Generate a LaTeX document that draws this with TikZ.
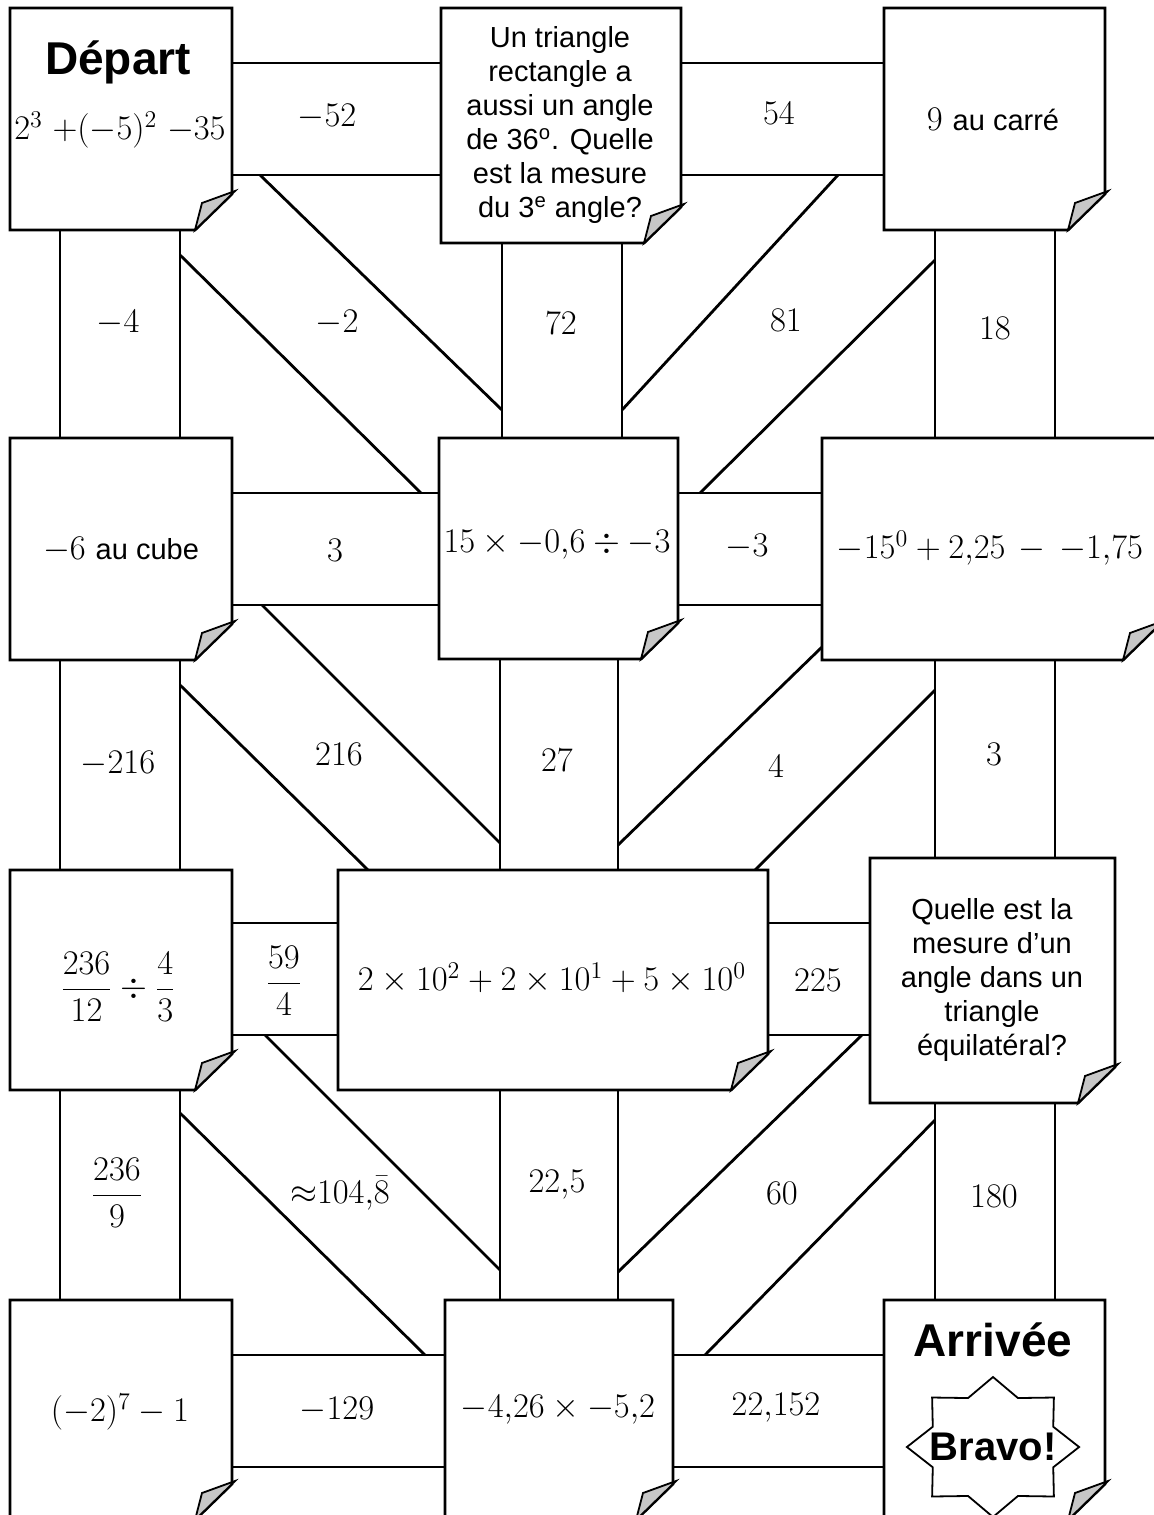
\documentclass[tikz,border=0pt]{standalone}
\usepackage{amsmath,amssymb}
\usepackage{fontspec}
\usepackage{tikz}
\usetikzlibrary{calc}
\newfontfamily\arialfont{Liberation Sans}
\newcommand\cardoutline[1]{%
  \filldraw[edge,fill=white] (#1.north west) -- (#1.north east) -- ([yshift=18pt]#1.south east) -- ([xshift=-18.5pt]#1.south east) -- (#1.south west) -- cycle;
  \filldraw[fold] ([xshift=-18.5pt]#1.south east) -- ([xshift=-15pt,yshift=13.5pt]#1.south east) -- ([xshift=1.5pt,yshift=19.5pt]#1.south east) -- cycle;}

\begin{document}
\begin{tikzpicture}[x=0.5pt,y=-0.5pt]
\tikzset{
  card/.style={inner sep=0pt,outer sep=0pt},
  edge/.style={draw=black,line width=1.4pt},
  fold/.style={draw=black,fill=black!22,line width=0.9pt},
  num/.style={font=\fontsize{16.5}{20}\selectfont},
  prose/.style={font=\arialfont\fontsize{14.5}{17}\selectfont,align=center},
  title/.style={font=\arialfont\bfseries\fontsize{23}{26}\selectfont}
}
\useasboundingbox (0,0) rectangle (1154,1515);
\clip (0,0) rectangle (1154,1515);

% cards of the board
\node[card,minimum width=111pt,minimum height=111pt] (dep) at (121,119) {};
\node[card,minimum width=120pt,minimum height=117.5pt] (tri) at (561,125.5) {};
\node[card,minimum width=110.5pt,minimum height=111pt] (sq) at (994.5,119) {};
\node[card,minimum width=111pt,minimum height=111pt] (cube) at (121,549) {};
\node[card,minimum width=119.5pt,minimum height=110.5pt] (mul) at (558.5,548.5) {};
\node[card,minimum width=169pt,minimum height=111pt] (pow) at (991,549) {};
\node[card,minimum width=111pt,minimum height=110pt] (frac) at (121,980) {};
\node[card,minimum width=215pt,minimum height=110pt] (sci) at (553,980) {};
\node[card,minimum width=122.5pt,minimum height=122.5pt] (equi) at (992.5,980.5) {};
\node[card,minimum width=111pt,minimum height=110pt] (odd) at (121,1410) {};
\node[card,minimum width=114pt,minimum height=110pt] (dec) at (559,1410) {};
\node[card,minimum width=110.5pt,minimum height=110pt] (arr) at (994.5,1410) {};

% straight bands
\foreach \a/\b/\y in {dep/tri/63,dep/tri/175,tri/sq/63,tri/sq/175,cube/mul/493,cube/mul/605,mul/pow/493,mul/pow/605,
  frac/sci/923,frac/sci/1035,sci/equi/923,sci/equi/1035,odd/dec/1355,odd/dec/1467,dec/arr/1355,dec/arr/1467}
  \draw[edge] (\a.center |- 0,\y) -- (\b.center |- 0,\y);
\foreach \a/\b/\x in {dep/cube/60,dep/cube/180,tri/mul/502,tri/mul/622,sq/pow/935,sq/pow/1055,
  cube/frac/60,cube/frac/180,mul/sci/500,mul/sci/618,pow/equi/935,pow/equi/1055,
  frac/odd/60,frac/odd/180,sci/dec/500,sci/dec/618,equi/arr/935,equi/arr/1055}
  \draw[edge] (\x,0 |- \a.center) -- (\x,0 |- \b.center);

% slanted bands
\foreach \xa/\ya/\xb/\yb in {180/255/421/493,260/175/502/410,838/175/622/410,935/260/700/493,
  180/685/368/870,262/605/500/843,822/647/618/845,935/690/755/870,
  180/1113/425/1355,265/1035/500/1270,862/1035/618/1272,935/1120/705/1355}
  \draw[edge] (\xa,\ya) -- (\xb,\yb);

\foreach \c in {dep,tri,sq,cube,mul,pow,frac,sci,equi,odd,dec,arr}
  \cardoutline{\c};

% card texts
\node[title] (depart) at (118,62) {Départ};
\node[num] (depexpr) at (120,130) {$2^3\;{+}({-}5)^2\;{-}35$};
\node[prose] (tritext) at (560,125) {Un triangle\\rectangle a\\aussi un angle\\de 36\textsuperscript{o}. Quelle\\est la mesure\\du 3\textsuperscript{e} angle?};
\node[num] (sqtext) at (993,120) {$9$ {\arialfont\fontsize{14.5}{17}\selectfont au carré}};
\node[num] (cubetext) at (121,550) {$-6$ {\arialfont\fontsize{14.5}{17}\selectfont au cube}};
\node[num] (multext) at (557,545) {$15\times-0{,}6\div-3$};
\node[num] (powtext) at (990,548) {$-15^0+2{,}25\,-\,-1{,}75$};
\node[num] (fractext) at (118,987) {$\dfrac{236}{12}\div\dfrac{4}{3}$};
\node[num] (scitext) at (552,978) {$2\times10^2+2\times10^1+5\times10^0$};
\node[prose] (equitext) at (992,980) {Quelle est la\\mesure d’un\\angle dans un\\triangle\\équilatéral?};
\node[num] (oddtext) at (120,1412) {$(-2)^7-1$};
\node[num] (dectext) at (558,1410) {$-4{,}26\times-5{,}2$};
\node[title] (arrivee) at (993,1340) {Arrivée};
\begin{scope}[shift={(993,1447)},xscale=1.23]
\draw[line width=0.9pt] (0:70) \foreach \a in {0,45,...,315} { -- (\a:70) -- (\a+22.5:53) } -- cycle;
\end{scope}
\node[font=\arialfont\bfseries\fontsize{20}{24}\selectfont] (bravo) at (993,1447) {Bravo!};

% band values
\node[num] (v52) at (327,117) {$-52$};
\node[num] (v54) at (779,113) {$54$};
\node[num] (v4a) at (118,323) {$-4$};
\node[num] (v2) at (337,323) {$-2$};
\node[num] (v72) at (561,323) {$72$};
\node[num] (v81) at (786,320) {$81$};
\node[num] (v18) at (995,328) {$18$};
\node[num] (v3a) at (335,550) {$3$};
\node[num] (v3b) at (747,547) {$-3$};
\node[num] (v216a) at (118,764) {$-216$};
\node[num] (v216b) at (339,754) {$216$};
\node[num] (v27) at (557,760) {$27$};
\node[num] (v4b) at (776,766) {$4$};
\node[num] (v3c) at (994,754) {$3$};
\node[num] (v59) at (284,981) {$\dfrac{59}{4}$};
\node[num] (v225) at (818,980) {$225$};
\node[num] (v236) at (117,1193) {$\dfrac{236}{9}$};
\node[num] (v104) at (340,1193) {${\approx}104{,}\bar{8}$};
\node[num] (v225b) at (557,1185) {$22{,}5$};
\node[num] (v60) at (782,1193) {$60$};
\node[num] (v180) at (994,1196) {$180$};
\node[num] (v129) at (337,1410) {$-129$};
\node[num] (v22152) at (776,1408) {$22{,}152$};
\end{tikzpicture}
\end{document}
